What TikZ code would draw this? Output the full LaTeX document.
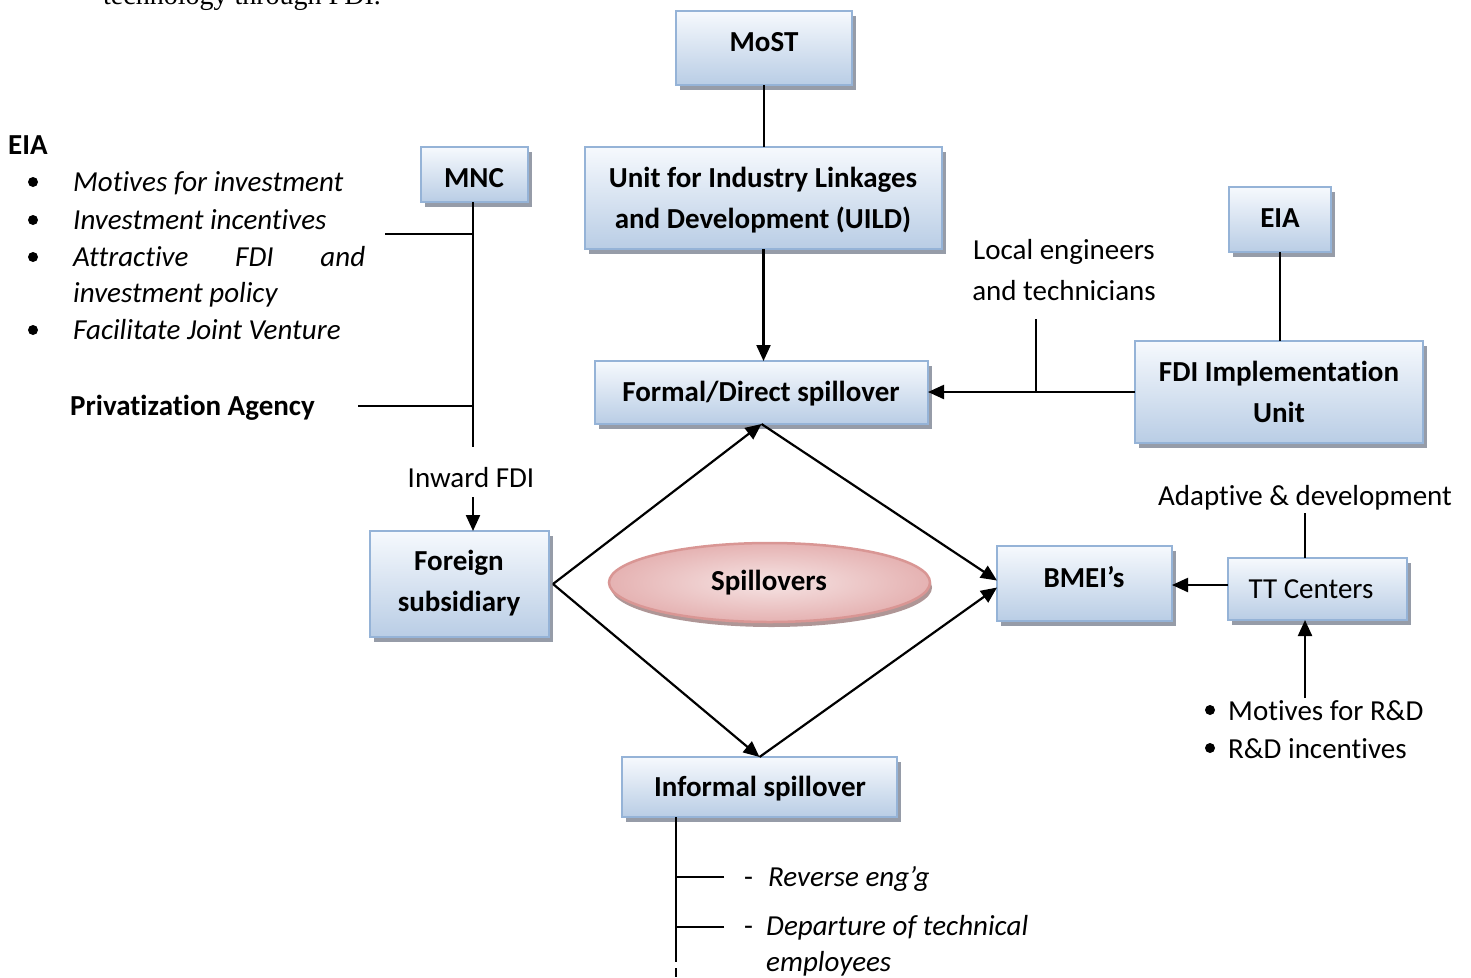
\documentclass[tikz,border=0pt]{standalone}
\usepackage{fontspec}
\setmainfont{Carlito}[Ligatures={NoCommon}]
\newfontfamily\docserif{Liberation Serif}
\usetikzlibrary{arrows.meta,shapes.geometric,shadows}
\definecolor{boxedge}{RGB}{149,179,215}
\definecolor{boxtop}{RGB}{246,249,253}
\definecolor{boxbot}{RGB}{185,205,229}
\definecolor{boxshade}{RGB}{150,156,168}
\definecolor{pinkedge}{RGB}{217,150,148}
\definecolor{pinkin}{RGB}{246,228,228}
\definecolor{pinkout}{RGB}{229,178,178}
\definecolor{pinkshade}{RGB}{175,150,150}
\newcommand\twolines[2]{\begin{tabular}[t]{@{}c@{}}#1\\#2\end{tabular}}

\begin{document}
\begin{tikzpicture}[x=1pt,y=-1pt,
  txt/.style={inner sep=0pt, font=\fontsize{29}{41}\selectfont},
  itxt/.style={txt, anchor=base west, font=\fontsize{29}{41}\selectfont\itshape},
  boxlabel/.style={inner sep=0pt, anchor=base, font=\fontsize{29}{41}\selectfont\bfseries},
  bbox/.style={draw=boxedge, line width=2.5pt, top color=boxtop, bottom color=boxbot,
    inner sep=0pt, outer sep=0pt,
    general shadow={fill=boxshade, shadow xshift=4pt, shadow yshift=-5pt}},
  link/.style={line width=2.2pt},
  arrow/.style={link, -{Triangle[length=16pt,width=14pt]}},
  dot/.style={circle, fill, inner sep=0pt, minimum size=10pt}
]
\useasboundingbox (0,0) rectangle (1471,977);

% running text of the page above the figure
\node[anchor=base west, inner sep=0pt, font=\docserif\fontsize{28}{32}\selectfont] (doctext) at (103,5) {technology through FDI.};

% boxes
\node[bbox, minimum width=176pt, minimum height=74pt]  (most)     at (764,48) {};
\node[bbox, minimum width=357pt, minimum height=102pt] (uild)     at (763.5,198) {};
\node[bbox, minimum width=333pt, minimum height=63pt]  (formal)   at (761.5,392.5) {};
\node[bbox, minimum width=288pt, minimum height=102pt] (fdiu)     at (1279,392) {};
\node[bbox, minimum width=102pt, minimum height=65pt]  (eiar)     at (1280,219.5) {};
\node[bbox, minimum width=107pt, minimum height=55pt]  (mnc)      at (474.5,174.5) {};
\node[bbox, minimum width=179pt, minimum height=106pt] (foreign)  at (459.5,584) {};
\node[bbox, minimum width=175pt, minimum height=75pt]  (bmei)     at (1084.5,583.5) {};
\node[bbox, minimum width=179pt, minimum height=62pt]  (tt)       at (1317.5,589) {};
\node[bbox, minimum width=275pt, minimum height=60pt]  (informal) at (759.5,787) {};

\node[ellipse, draw=pinkedge, line width=2.5pt, inner color=pinkin, outer color=pinkout,
  minimum width=321pt, minimum height=79pt, inner sep=0pt,
  general shadow={fill=pinkshade, shadow xshift=2pt, shadow yshift=-5pt}] (spill) at (769.5,582.5) {};

% box captions
\node[boxlabel] (mostT)     at (764,51)   {MoST};
\node[boxlabel] (uildT)     at (763,187)  {\twolines{Unit for Industry Linkages}{and Development (UILD)}};
\node[boxlabel] (formalT)   at (761,401)  {Formal/Direct spillover};
\node[boxlabel] (fdiuT)     at (1279,381) {\twolines{FDI Implementation}{Unit}};
\node[boxlabel] (eiarT)     at (1280,227) {EIA};
\node[boxlabel] (mncT)      at (474,187)  {MNC};
\node[boxlabel] (foreignT)  at (459,570)  {\twolines{Foreign}{subsidiary}};
\node[boxlabel] (bmeiT)     at (1084,587) {BMEI’s};
\node[boxlabel, font=\fontsize{29}{41}\selectfont] (ttT) at (1311,598) {TT Centers};
\node[boxlabel] (informalT) at (760,796)  {Informal spillover};
\node[boxlabel] (spillT)    at (769,590)  {Spillovers};

% left-hand list
\node[txt, anchor=base west, font=\fontsize{29}{41}\selectfont\bfseries] (eiaL) at (8,154) {EIA};
\node[dot] (d1) at (33,182) {};
\node[dot] (d2) at (33,220) {};
\node[dot] (d3) at (33,257) {};
\node[dot] (d4) at (33,330) {};
\node[itxt] (l1) at (73,191) {Motives for investment};
\node[itxt] (l2) at (73,229) {Investment incentives};
\node[itxt] (l3) at (73,266) {\makebox[292pt][s]{Attractive FDI and}};
\node[itxt] (l4) at (73,302) {investment policy};
\node[itxt] (l5) at (73,339) {Facilitate Joint Venture};
\node[txt, anchor=base west, font=\fontsize{29}{41}\selectfont\bfseries] (priv) at (70,415) {Privatization Agency};

% free labels
\node[txt, anchor=base] (local)  at (1064,259) {\twolines{Local engineers}{and technicians}};
\node[txt, anchor=base] (inward) at (471,487)  {Inward FDI};
\node[txt, anchor=base] (adapt)  at (1305,505) {Adaptive \& development};
\node[dot] (d5) at (1210,710) {};
\node[dot] (d6) at (1210,748) {};
\node[txt, anchor=base west] (rd1) at (1228,720) {Motives for R\&D};
\node[txt, anchor=base west] (rd2) at (1228,758) {R\&D incentives};
\node[txt, anchor=base west] (dash1) at (744,886) {-};
\node[itxt] (rev)  at (768,886) {Reverse eng’g};
\node[txt, anchor=base west] (dash2) at (744,935) {-};
\node[itxt] (dep)  at (766,935) {Departure of technical};
\node[itxt] (emp)  at (766,971) {employees};

% connector end points
\coordinate (mnctail) at (473,447);
\coordinate (fdihead) at (473,497);
\coordinate (eiaend)  at (385,234);
\coordinate (privend) at (358,406);
\coordinate (localend) at (1036,319);
\coordinate (adaptend) at (1305,513);
\coordinate (rdend)   at (1305,698);
\coordinate (infB)    at (676,962);
\coordinate (infC)    at (676,968);
\coordinate (infD)    at (676,977);
\coordinate (rev1)    at (724,877);
\coordinate (rev2)    at (724,927);

% connectors
\draw[link]  (most.south) -- (most.south |- uild.north);
\draw[arrow] (uild.south) -- (uild.south |- formal.north);
\draw[arrow] (fdiu.west) -- (fdiu.west -| formal.east);
\draw[link]  (localend) -- (localend |- fdiu.west);
\draw[link]  (eiar.south) -- (eiar.south |- fdiu.north);
\draw[link]  (adaptend) -- (adaptend |- tt.north);
\draw[arrow] ([yshift=4pt]tt.west) -- ([yshift=4pt]tt.west -| bmei.east);
\draw[arrow] (rdend) -- (rdend |- tt.south);

\draw[link]  (mnctail |- mnc.south) -- (mnctail);
\draw[link]  (eiaend) -- (eiaend -| mnctail);
\draw[link]  (privend) -- (privend -| mnctail);
\draw[arrow] (fdihead) -- (fdihead |- foreign.north);

\draw[arrow] ([xshift=4pt]foreign.east) -- (formal.south);
\draw[arrow] ([xshift=4pt]foreign.east) -- (informal.north);
\draw[arrow] (formal.south) -- ([yshift=3pt]bmei.west);
\draw[arrow] (informal.north) -- ([yshift=-4pt]bmei.west);

\draw[link]  (infB |- informal.south) -- (infB);
\draw[link]  (infC) -- (infD);
\draw[link]  (rev1) -- (rev1 -| infB);
\draw[link]  (rev2) -- (rev2 -| infB);
\end{tikzpicture}
\end{document}
